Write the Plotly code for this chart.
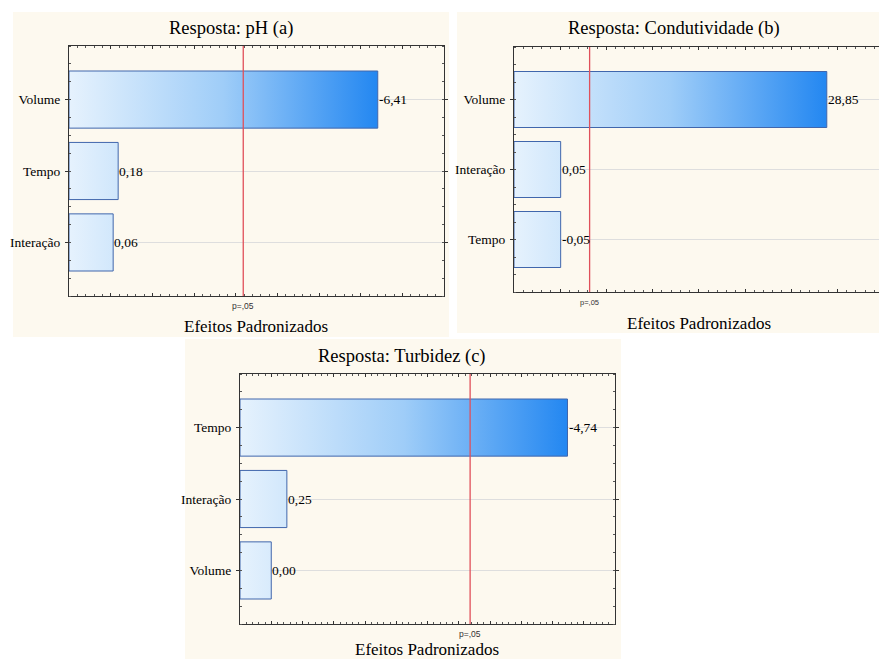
import plotly.graph_objects as go

# ---------------- data ----------------
titles = ["Resposta: pH (a)", "Resposta: Condutividade (b)", "Resposta: Turbidez (c)"]
cats_a = ["Volume", "Tempo", "Interação"]
effects_a = [-6.41, 0.18, 0.06]
cats_b = ["Volume", "Interação", "Tempo"]
effects_b = [28.85, 0.05, -0.05]
cats_c = ["Tempo", "Interação", "Volume"]
effects_c = [-4.74, 0.25, 0.00]
p_crit = 3.182          # t critical value, p = .05
p_label = "p=,05"
x_title = "Efeitos Padronizados"

# ---------------- layout constants ----------------
W, H = 879, 659
SERIF = "Liberation Serif, Times New Roman, serif"
SANS = "Liberation Sans, Arial, sans-serif"
CREAM = "#fdf9ef"

panels = [
    dict(cats=cats_a, eff=effects_a, xr=[-1, 8], dtick=1, mdt=0.2,
         px=(69, 444), py=(46, 296), bg=(13, 449, 12, 337),
         title_xy=(231, 29), xt_xy=(256, 326), p_y=306, right=True, psize=8.5),
    dict(cats=cats_b, eff=effects_b, xr=[-5, 34.5], dtick=5, mdt=1,
         px=(514, 879), py=(47, 292), bg=(457, 879, 12, 333),
         title_xy=(674, 29), xt_xy=(699, 323), p_y=303, right=False, psize=7.5),
    dict(cats=cats_c, eff=effects_c, xr=[-0.5, 5.5], dtick=0.5, mdt=0.1,
         px=(240, 615), py=(374, 624), bg=(185, 621, 339, 659),
         title_xy=(402, 357), xt_xy=(427, 649), p_y=634, right=True, psize=8.5),
]

def fx(px):
    return px / W

def fy(py):
    return 1 - py / H

fig = go.Figure()
shapes = []
annotations = []

for k, p in enumerate(panels):
    n = k + 1
    xa = "x" if n == 1 else f"x{n}"
    ya = "y" if n == 1 else f"y{n}"
    xmin = p["xr"][0]
    vmax = max(abs(v) for v in p["eff"])

    # panel background
    x0, x1, y0, y1 = p["bg"]
    shapes.append(dict(type="rect", xref="paper", yref="paper", layer="below",
                       x0=fx(x0), x1=fx(x1), y0=fy(y1), y1=fy(y0),
                       fillcolor=CREAM, line=dict(width=0)))

    # bars (gradient-filled polygons built from the data values)
    for i, v in enumerate(p["eff"]):
        a = abs(v)
        fig.add_trace(go.Scatter(
            x=[xmin, a, a, xmin, xmin],
            y=[i - 0.4, i - 0.4, i + 0.4, i + 0.4, i - 0.4],
            mode="lines", fill="toself",
            fillgradient=dict(type="horizontal", start=xmin, stop=vmax,
                              colorscale=[[0, "#e6f2fd"], [0.5, "#9fcdf8"], [1, "#2387f1"]]),
            line=dict(color="#4066ac", width=1),
            hoverinfo="skip", showlegend=False, xaxis=xa, yaxis=ya))
        # value label
        annotations.append(dict(x=a, y=i, xref=xa, yref=ya, text=f"{v:.2f}".replace(".", ","),
                                showarrow=False, xanchor="left", yanchor="middle", xshift=-1,
                                font=dict(family=SERIF, size=13.5, color="#000")))

    # critical value line
    shapes.append(dict(type="line", xref=xa, yref=f"{ya} domain", x0=p_crit, x1=p_crit,
                       y0=0, y1=1, line=dict(color="#e0505a", width=1.3)))
    annotations.append(dict(x=p_crit, y=fy(p["p_y"]), xref=xa, yref="paper", text=p_label,
                            showarrow=False, xanchor="center", yanchor="middle",
                            font=dict(family=SANS, size=p["psize"], color="#333")))
    # titles
    annotations.append(dict(x=fx(p["title_xy"][0]), y=fy(p["title_xy"][1]), xref="paper", yref="paper",
                            text=titles[k], showarrow=False, xanchor="center", yanchor="middle",
                            font=dict(family=SERIF, size=18.5, color="#000")))
    annotations.append(dict(x=fx(p["xt_xy"][0]), y=fy(p["xt_xy"][1]), xref="paper", yref="paper",
                            text=x_title, showarrow=False, xanchor="center", yanchor="middle",
                            font=dict(family=SERIF, size=17, color="#000")))

    xkey = "xaxis" if n == 1 else f"xaxis{n}"
    ykey = "yaxis" if n == 1 else f"yaxis{n}"
    fig.layout[xkey] = dict(
        domain=[fx(p["px"][0]), fx(p["px"][1])], range=p["xr"], anchor=ya,
        showgrid=False, zeroline=False, showticklabels=False,
        showline=True, linecolor="#333", linewidth=1, mirror="ticks",
        ticks="inside", ticklen=3, tickcolor="#333", dtick=p["dtick"], tick0=0,
        minor=dict(ticks="inside", ticklen=2, dtick=p["mdt"], tickcolor="#555", showgrid=False),
        fixedrange=True)
    fig.layout[ykey] = dict(
        domain=[fy(p["py"][1]), fy(p["py"][0])], range=[2.75, -0.75], anchor=xa,
        tickmode="array", tickvals=[0, 1, 2], ticktext=p["cats"],
        tickfont=dict(family=SERIF, size=13.5, color="#000"),
        showgrid=True, gridcolor="#dedede", gridwidth=1, zeroline=False,
        showline=True, linecolor="#333", linewidth=1,
        mirror="ticks" if p["right"] else False,
        ticks="outside", ticklen=3, tickcolor="#333", ticklabelstandoff=2,
        minor=dict(ticks="inside", ticklen=2, dtick=0.25, tick0=-0.75, tickcolor="#555", showgrid=False),
        fixedrange=True)

fig.update_layout(
    width=W, height=H, margin=dict(l=0, r=0, t=0, b=0),
    paper_bgcolor="white", plot_bgcolor="white",
    shapes=shapes, annotations=annotations, showlegend=False,
)

fig.write_html("out.html", config={"displayModeBar": False},
               post_script="document.body.style.margin='0px';document.body.style.overflow='hidden';")
